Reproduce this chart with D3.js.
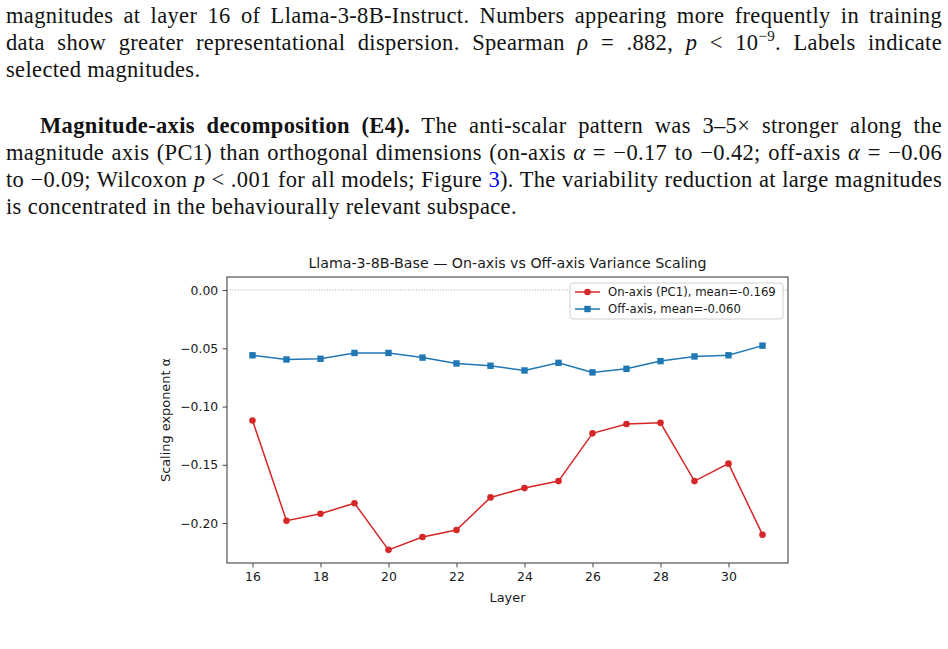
<!DOCTYPE html>
<html><head><meta charset="utf-8">
<script src="https://cdn.jsdelivr.net/npm/d3@7"></script>
<style>
body{margin:0;background:#fff;}
#page{position:relative;width:948px;height:649px;overflow:hidden;background:#fff;}
.ln{position:absolute;left:6px;font-family:"Liberation Serif","DejaVu Serif",serif;font-size:22.5px;letter-spacing:0.35px;white-space:nowrap;line-height:27px;color:#111;}
.ln i{font-style:italic;}
.ln b{font-weight:bold;}
.ln .lnk{color:#0000ff;}
.ln sup{font-size:15px;vertical-align:0;position:relative;top:-9px;line-height:0;}
svg{position:absolute;left:0;top:0;}
</style></head>
<body><div id="page"></div>
<script>
// ---------- data ----------
const layers = [16,17,18,19,20,21,22,23,24,25,26,27,28,29,30,31];
const onAxis = [-0.112,-0.198,-0.192,-0.183,-0.223,-0.212,-0.206,-0.178,-0.170,-0.164,-0.123,-0.115,-0.114,-0.164,-0.149,-0.210];
const offAxis = [-0.056,-0.0596,-0.059,-0.054,-0.054,-0.058,-0.063,-0.065,-0.069,-0.0625,-0.0707,-0.0676,-0.061,-0.057,-0.056,-0.0477];
const xTickValues = [16,18,20,22,24,26,28,30];
const yTickValues = [0,-0.05,-0.10,-0.15,-0.20];
const seriesNames = ["On-axis (PC1), mean=-0.169","Off-axis, mean=-0.060"];
const chartTitle = "Llama-3-8B-Base — On-axis vs Off-axis Variance Scaling";
const xLabel = "Layer";
const yLabel = "Scaling exponent α";
// paragraph lines (html, baseline, indent, justified)
const textLines = [
  ["magnitudes at layer 16 of Llama-3-8B-Instruct.  Numbers appearing more frequently in training", 23, 0, true],
  ["data show greater representational dispersion.  Spearman <i>ρ</i> = .882, <i>p</i> &lt; 10<sup>−9</sup>.  Labels indicate", 50, 0, true],
  ["selected magnitudes.", 77, 0, false],
  ["<b>Magnitude-axis decomposition (E4).</b> The anti-scalar pattern was 3–5× stronger along the", 133, 34, true],
  ["magnitude axis (PC1) than orthogonal dimensions (on-axis <i>α</i> = −0.17 to −0.42; off-axis <i>α</i> = −0.06", 160, 0, true],
  ["to −0.09; Wilcoxon <i>p</i> &lt; .001 for all models; Figure <span class='lnk'>3</span>).  The variability reduction at large magnitudes", 187, 0, true],
  ["is concentrated in the behaviourally relevant subspace.", 214, 0, false]
];

(function(){
const page = d3.select("#page");
const rightEdge = 942, leftEdge = 6;
textLines.forEach(([html, base, indent, just]) => {
  const div = page.append("div").attr("class","ln")
    .style("top", (base - 21) + "px").style("left", (leftEdge + indent) + "px");
  const span = div.append("span").html(html.replace(/  /g," "));
  if (just) {
    const w = span.node().getBoundingClientRect().width;
    const txt = span.node().textContent;
    const spaces = (txt.match(/ /g) || []).length;
    const target = rightEdge - leftEdge - indent;
    div.style("word-spacing", ((target - w) / spaces) + "px");
  }
});

// ---------- chart ----------
const W = 948, H = 649;
const svg = page.append("svg").attr("width", W).attr("height", H);
const pL = 227, pR = 788, pT = 277, pB = 563;
const x = d3.scaleLinear().domain([15.25, 31.75]).range([pL, pR]);
const y = d3.scaleLinear().domain([-0.2343, 0.0112]).range([pB, pT]);
const font = "'DejaVu Sans', sans-serif";
const red = "#d62728", blue = "#1f77b4", ink = "#1a1a1a";

svg.append("line").attr("x1", pL).attr("x2", pR).attr("y1", y(0)).attr("y2", y(0))
  .attr("stroke", "#aaa").attr("stroke-width", 1).attr("stroke-dasharray", "1,1.7");

const line = d3.line().x((d,i) => x(layers[i])).y(d => y(d));
svg.append("path").datum(offAxis).attr("d", line).attr("fill","none").attr("stroke", blue).attr("stroke-width", 1.5);
svg.append("path").datum(onAxis).attr("d", line).attr("fill","none").attr("stroke", red).attr("stroke-width", 1.5);
const sq = 6.4;
svg.selectAll(".sq").data(offAxis).enter().append("rect")
  .attr("x", (d,i) => x(layers[i]) - sq/2).attr("y", d => y(d) - sq/2)
  .attr("width", sq).attr("height", sq).attr("fill", blue);
svg.selectAll(".ci").data(onAxis).enter().append("circle")
  .attr("cx", (d,i) => x(layers[i])).attr("cy", d => y(d)).attr("r", 3.3).attr("fill", red);

const xAxis = d3.axisBottom(x).tickValues(xTickValues).tickSize(4.4).tickPadding(4.4).tickFormat(d3.format("d"));
const yAxis = d3.axisLeft(y).tickValues(yTickValues).tickSize(4.4).tickPadding(4.4).tickFormat(d3.format(".2f"));
const gx = svg.append("g").attr("transform", `translate(0,${pB})`).call(xAxis);
const gy = svg.append("g").attr("transform", `translate(${pL},0)`).call(yAxis);
[gx, gy].forEach(g => {
  g.select(".domain").remove();
  g.selectAll("text").attr("font-family", font).attr("font-size", 12.4).attr("fill", ink);
  g.selectAll("line").attr("stroke", "#444").attr("stroke-width", 1);
});
svg.append("rect").attr("x", pL).attr("y", pT).attr("width", pR-pL).attr("height", pB-pT)
  .attr("fill","none").attr("stroke","#444").attr("stroke-width",1.1);

svg.append("text").attr("x", (pL+pR)/2).attr("y", 268).attr("text-anchor","middle")
  .attr("font-family", font).attr("font-size", 14.2).attr("fill", ink).text(chartTitle);
svg.append("text").attr("x", (pL+pR)/2).attr("y", 602).attr("text-anchor","middle")
  .attr("font-family", font).attr("font-size", 12.9).attr("fill", ink).text(xLabel);
svg.append("text").attr("transform", `translate(170,420) rotate(-90)`).attr("text-anchor","middle")
  .attr("font-family", font).attr("font-size", 12.9).attr("fill", ink).text(yLabel);

const lg = svg.append("g");
lg.append("rect").attr("x", 570).attr("y", 283).attr("width", 213).attr("height", 36).attr("rx", 3)
  .attr("fill", "#fff").attr("fill-opacity", 0.8).attr("stroke", "#d0d0d0").attr("stroke-width", 1);
const entries = [[red, "circle"], [blue, "square"]];
entries.forEach(([c, m], i) => {
  const yy = 292 + i * 17;
  lg.append("line").attr("x1", 575).attr("x2", 600).attr("y1", yy).attr("y2", yy).attr("stroke", c).attr("stroke-width", 1.5);
  if (m === "circle") lg.append("circle").attr("cx", 587.5).attr("cy", yy).attr("r", 3.3).attr("fill", c);
  else lg.append("rect").attr("x", 587.5 - sq/2).attr("y", yy - sq/2).attr("width", sq).attr("height", sq).attr("fill", c);
  lg.append("text").attr("x", 608).attr("y", yy + 4.2).attr("font-family", font).attr("font-size", 11.7).attr("fill", ink).text(seriesNames[i]);
});
})();
</script>
</body></html>
